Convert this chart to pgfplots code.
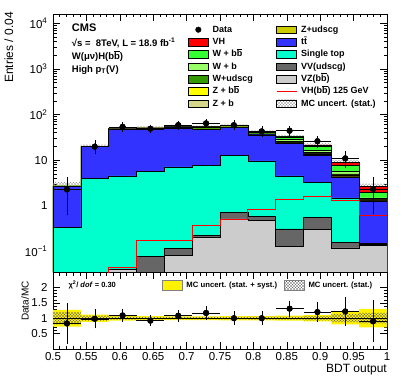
\documentclass[border=0pt]{standalone}
\usepackage{fontspec}
\setmainfont{Liberation Sans}
\usepackage{pgfplots}
\pgfplotsset{compat=1.18}
\usepackage{pgfplotstable}
\usepgfplotslibrary{fillbetween}
\usetikzlibrary{patterns}

\definecolor{cVH}{RGB}{255,0,0}
\definecolor{cWbb}{RGB}{51,255,51}
\definecolor{cWb}{RGB}{153,255,102}
\definecolor{cWl}{RGB}{51,153,0}
\definecolor{cZbb}{RGB}{255,255,0}
\definecolor{cZb}{RGB}{214,214,138}
\definecolor{cZl}{RGB}{204,204,0}
\definecolor{cTT}{RGB}{51,51,255}
\definecolor{cST}{RGB}{0,255,204}
\definecolor{cVV}{RGB}{102,102,102}
\definecolor{cVZ}{RGB}{204,204,204}

% cross hatch like ROOT's 3144 style
\pgfdeclarepatternformonly{finecross}{\pgfqpoint{-1pt}{-1pt}}{\pgfqpoint{4pt}{4pt}}{\pgfqpoint{3pt}{3pt}}{%
  \pgfsetlinewidth{0.25pt}
  \pgfpathmoveto{\pgfqpoint{0pt}{0pt}}\pgfpathlineto{\pgfqpoint{3.01pt}{3.01pt}}
  \pgfpathmoveto{\pgfqpoint{0pt}{3pt}}\pgfpathlineto{\pgfqpoint{3pt}{0pt}}
  \pgfusepath{stroke}}

% MC components per bin (left edge), last row repeats the last bin
\pgfplotstableread{
x       VZ    VV    ST    TT    ZL   ZB   ZBB  WL   WB   WBB  VH    stat syst
0.5     0.001 0.001 0.33  2.30  0.02 0.01 0.01 0.04 0.01 0.01 0.001 0.20 0.27
0.54167 0.001 0.001 3.90  15.8  0.10 0.03 0.02 0.20 0.05 0.03 0.001 0.08 0.12
0.58333 0.040 0.001 4.46  43.5  0.30 0.05 0.03 0.60 0.10 0.05 0.045 0.05 0.08
0.625   0.001 0.077 5.50  45.0  0.50 0.10 0.05 1.00 0.30 0.15 0.175 0.04 0.07
0.66667 0.082 0.033 7.00  44.0  0.60 0.10 0.05 1.50 0.40 0.20 0.175 0.04 0.06
0.70833 0.200 0.020 7.50  39.0  1.00 0.20 0.10 4.50 1.20 0.50 0.37  0.04 0.06
0.75    0.510 0.200 11.8  40.5  0.50 0.10 0.10 3.00 0.80 0.30 0.51  0.04 0.07
0.79167 0.470 0.110 9.00  26.4  0.30 0.10 0.10 3.50 1.30 0.60 0.84  0.05 0.07
0.83333 0.130 0.180 4.20  19.0  0.40 0.20 0.20 1.60 3.00 3.30 1.36  0.05 0.08
0.875   0.300 0.260 2.64  9.70  0.50 0.30 0.40 0.80 1.60 3.50 1.60  0.07 0.10
0.91667 0.118 0.037 1.33  2.62  0.20 0.10 0.30 0.30 0.60 2.00 1.29  0.13 0.20
0.95833 0.135 0.005 0.01  1.10  0.02 0.02 0.05 0.05 0.10 0.50 0.62  0.17 0.30
1.0     0.135 0.005 0.01  1.10  0.02 0.02 0.05 0.05 0.10 0.50 0.62  0.17 0.30
}\mc

% data: bin centre, entries, error, ratio to MC, ratio error
\pgfplotstableread{
x       y     ey   r    er
0.52083 2.27  1.6  0.83 0.60
0.5625  19.7  5.0  0.98 0.25
0.60417 53.6  7.9  1.09 0.16
0.64583 48.6  6.3  0.92 0.11
0.6875  58.5  7.6  1.08 0.14
0.72917 63.9  8.7  1.17 0.16
0.77083 58.3  9.3  1.00 0.16
0.8125  42.7  7.3  1.00 0.17
0.85417 44.0  6.7  1.31 0.20
0.89583 25.9  5.6  1.20 0.26
0.9375  10.9  3.6  1.22 0.41
0.97917 2.3   1.6  0.90 0.62
}\data

\newcommand{\sVV}{\thisrow{VZ}+\thisrow{VV}}
\newcommand{\sST}{\sVV+\thisrow{ST}}
\newcommand{\sTT}{\sST+\thisrow{TT}}
\newcommand{\sZL}{\sTT+\thisrow{ZL}}
\newcommand{\sZB}{\sZL+\thisrow{ZB}}
\newcommand{\sZBB}{\sZB+\thisrow{ZBB}}
\newcommand{\sWL}{\sZBB+\thisrow{WL}}
\newcommand{\sWB}{\sWL+\thisrow{WB}}
\newcommand{\sWBB}{\sWB+\thisrow{WBB}}
\newcommand{\sVH}{\sWBB+\thisrow{VH}}

\pgfplotsset{
  hist/.style={const plot, draw=black, line width=0.4pt, forget plot},
  boxleg/.style={legend image code/.code={\draw[##1] (0pt,-3.8pt) rectangle (20pt,3.8pt);}},
  rboxleg/.style={legend image code/.code={\draw[##1] (0pt,-5pt) rectangle (20pt,5pt);}},
  vhleg/.style={legend image code/.code={\draw[red, line width=0.8pt] (0pt,0pt) -- (20pt,0pt);}},
  dataleg/.style={legend image code/.code={\draw[mark repeat=2,mark phase=2,##1] plot coordinates {(0pt,0pt) (10pt,0pt) (20pt,0pt)};}},
  roottick/.style={tick pos=both, major tick length=7pt, minor tick length=3.5pt,
    tick style={black, line width=0.4pt}, axis line style={line width=0.6pt},
    tick label style={font=\fontsize{11.5}{12}\selectfont},
    /pgf/number format/assume math mode=true},
}

\begin{document}
\begin{tikzpicture}

\begin{axis}[name=top, at={(0pt,0pt)}, anchor=south west, scale only axis,
  width=334pt, height=258pt, roottick,
  xmin=0.5, xmax=1, ymode=log, ymin=0.035, ymax=16000, log origin y=infty,
  xtick={0.5,0.55,0.6,0.65,0.7,0.75,0.8,0.85,0.9,0.95,1}, xticklabels={},
  minor x tick num=4,
  ytick={0.1,1,10,100,1000,10000},
  yticklabels={10\textsuperscript{−1},1,10,10\textsuperscript{2},10\textsuperscript{3},10\textsuperscript{4}},
  yticklabel style={xshift=-2pt},
  minor ytick={0.04,0.05,0.06,0.07,0.08,0.09,0.2,0.3,0.4,0.5,0.6,0.7,0.8,0.9,
    2,3,4,5,6,7,8,9,20,30,40,50,60,70,80,90,200,300,400,500,600,700,800,900,
    2000,3000,4000,5000,6000,7000,8000,9000},
  ylabel={Entries / 0.04},
  ylabel style={at={(axis description cs:-0.132,1.008)}, anchor=east, inner sep=0pt,
    font=\fontsize{12}{12}\selectfont},
  legend columns=2,
  legend style={at={(axis description cs:0.404,0.962)}, anchor=north west,
    draw=none, fill=none, inner sep=0pt, row sep=0.9pt,
    font=\bfseries\fontsize{9}{9}\selectfont,
    nodes={inner sep=1.2pt, text height=7pt, text depth=2pt, anchor=west},
    /tikz/every odd column/.append style={column sep=3pt},
    /tikz/every even column/.append style={column sep=22pt}},
]
% stacked MC, drawn from the top of the stack down
\addplot[hist, fill=cVH]  table[x=x, y expr=\sVH]  {\mc} \closedcycle;
\addplot[hist, fill=cWbb] table[x=x, y expr=\sWBB] {\mc} \closedcycle;
\addplot[hist, fill=cWb]  table[x=x, y expr=\sWB]  {\mc} \closedcycle;
\addplot[hist, fill=cWl]  table[x=x, y expr=\sWL]  {\mc} \closedcycle;
\addplot[hist, fill=cZbb] table[x=x, y expr=\sZBB] {\mc} \closedcycle;
\addplot[hist, fill=cZb]  table[x=x, y expr=\sZB]  {\mc} \closedcycle;
\addplot[hist, fill=cZl]  table[x=x, y expr=\sZL]  {\mc} \closedcycle;
\addplot[hist, fill=cTT]  table[x=x, y expr=\sTT]  {\mc} \closedcycle;
\addplot[hist, fill=cST]  table[x=x, y expr=\sST]  {\mc} \closedcycle;
\addplot[hist, fill=cVV]  table[x=x, y expr=\sVV]  {\mc} \closedcycle;
\addplot[hist, fill=cVZ]  table[x=x, y=VZ]         {\mc} \closedcycle;
% signal shape
\addplot[const plot, red, line width=0.8pt, forget plot] table[x=x, y=VH] {\mc};
% MC stat. uncertainty
\addplot[const plot, draw=none, name path=hup, forget plot] table[x=x, y expr=(\sVH)*(1+\thisrow{stat})] {\mc};
\addplot[const plot, draw=none, name path=hdn, forget plot] table[x=x, y expr=(\sVH)*(1-\thisrow{stat})] {\mc};
\addplot[pattern=finecross, pattern color=gray!80, draw=none, forget plot] fill between[of=hup and hdn];
% data
\addplot[only marks, mark=*, mark size=2.8pt, black, forget plot,
  error bars/.cd, x dir=both, x fixed=0.020833, error mark=none,
  error bar style={line width=0.5pt}] table[x=x, y=y] {\data};
\addplot[only marks, mark=*, mark size=2.8pt, black, forget plot,
  error bars/.cd, y dir=both, y explicit, error mark options={mark size=1.8pt},
  error bar style={line width=0.5pt}] table[x=x, y=y, y error=ey] {\data};

% legend
\addlegendimage{dataleg, only marks, mark=*, mark size=2.8pt, black}
\addlegendentry{Data}
\addlegendimage{boxleg, fill=cZl, draw=black}
\addlegendentry{Z+udscg}
\addlegendimage{boxleg, fill=cVH, draw=black}
\addlegendentry{VH}
\addlegendimage{boxleg, fill=cTT, draw=black}
\addlegendentry{t\=t}
\addlegendimage{boxleg, fill=cWbb, draw=black}
\addlegendentry{W + b$\overline{\mbox{b}}$}
\addlegendimage{boxleg, fill=cST, draw=black}
\addlegendentry{Single top}
\addlegendimage{boxleg, fill=cWb, draw=black}
\addlegendentry{W + b}
\addlegendimage{boxleg, fill=cVV, draw=black}
\addlegendentry{VV(udscg)}
\addlegendimage{boxleg, fill=cWl, draw=black}
\addlegendentry{W+udscg}
\addlegendimage{boxleg, fill=cVZ, draw=black}
\addlegendentry{VZ(b$\overline{\mbox{b}}$)}
\addlegendimage{boxleg, fill=cZbb, draw=black}
\addlegendentry{Z + b$\overline{\mbox{b}}$}
\addlegendimage{vhleg}
\addlegendentry{VH(b$\overline{\mbox{b}}$) 125 GeV}
\addlegendimage{boxleg, fill=cZb, draw=black}
\addlegendentry{Z + b}
\addlegendimage{boxleg, pattern=finecross, pattern color=gray!80, draw=none}
\addlegendentry{MC uncert. (stat.)}

\node[anchor=west, font=\bfseries\fontsize{11}{11}\selectfont] at (axis description cs:0.046,0.946) {CMS};
\node[anchor=west, font=\bfseries\fontsize{9.5}{10}\selectfont] at (axis description cs:0.046,0.889)
  {√s =\ \ 8TeV, L = 18.9 fb\textsuperscript{-1}};
\node[anchor=west, font=\bfseries\fontsize{9.5}{10}\selectfont] at (axis description cs:0.046,0.837)
  {W(μν)H(b$\overline{\mbox{b}}$)};
\node[anchor=west, font=\bfseries\fontsize{9.5}{10}\selectfont] at (axis description cs:0.046,0.783)
  {High p\textsubscript{T}(V)};
\end{axis}

\begin{axis}[name=ratio, at={(top.south west)}, anchor=north west, scale only axis,
  width=334pt, height=77pt, roottick,
  xmin=0.5, xmax=1, ymin=0, ymax=2.5,
  xtick={0.5,0.55,0.6,0.65,0.7,0.75,0.8,0.85,0.9,0.95,1},
  xticklabels={0.5,0.55,0.6,0.65,0.7,0.75,0.8,0.85,0.9,0.95,1},
  minor x tick num=4,
  ytick={0.5,1,1.5,2}, yticklabels={0.5,1,1.5,2}, minor y tick num=4,
  yticklabel style={xshift=-2pt},
  xlabel={BDT output},
  xlabel style={at={(axis description cs:1,0)}, anchor=north east, yshift=-15pt,
    inner sep=0pt, font=\fontsize{12}{12}\selectfont},
  ylabel={Data/MC},
  ylabel style={at={(axis description cs:-0.084,0.88)}, anchor=east, inner sep=0pt,
    font=\fontsize{10}{10}\selectfont},
  legend columns=2,
  legend style={at={(axis description cs:0.326,0.83)}, anchor=west,
    draw=none, fill=none, inner sep=0pt,
    font=\bfseries\fontsize{7.7}{8}\selectfont,
    nodes={inner sep=1pt, anchor=west},
    /tikz/every odd column/.append style={column sep=3pt},
    /tikz/every even column/.append style={column sep=6pt}},
]
\addplot[const plot, draw=none, name path=sup, forget plot] table[x=x, y expr=1+\thisrow{syst}] {\mc};
\addplot[const plot, draw=none, name path=sdn, forget plot] table[x=x, y expr=1-\thisrow{syst}] {\mc};
\addplot[fill=yellow, draw=none, forget plot] fill between[of=sup and sdn];
\addplot[const plot, draw=none, name path=tup, forget plot] table[x=x, y expr=1+\thisrow{stat}] {\mc};
\addplot[const plot, draw=none, name path=tdn, forget plot] table[x=x, y expr=1-\thisrow{stat}] {\mc};
\addplot[pattern=finecross, pattern color=black!60, draw=none, forget plot] fill between[of=tup and tdn];
\addplot[black, line width=0.6pt, forget plot] coordinates {(0.5,1) (1,1)};
\addplot[only marks, mark=*, mark size=2.8pt, black, forget plot,
  error bars/.cd, x dir=both, x fixed=0.020833, error mark=none,
  error bar style={line width=0.5pt}] table[x=x, y=r] {\data};
\addplot[only marks, mark=*, mark size=2.8pt, black, forget plot,
  error bars/.cd, y dir=both, y explicit, error mark options={mark size=1.8pt},
  error bar style={line width=0.5pt}] table[x=x, y=r, y error=er] {\data};

\addlegendimage{rboxleg, fill=yellow, draw=gray}
\addlegendentry{MC uncert. (stat. + syst.)}
\addlegendimage{rboxleg, pattern=finecross, pattern color=black!60, draw=gray}
\addlegendentry{MC uncert. (stat.)}

\node[anchor=west, font=\bfseries\fontsize{7.5}{8}\selectfont] at (axis description cs:0.036,0.83)
  {χ\textsuperscript{2}/ \textit{dof} = 0.30};
\end{axis}
\path (-53pt,-119pt) rectangle (354pt,272pt);
\end{tikzpicture}
\end{document}
